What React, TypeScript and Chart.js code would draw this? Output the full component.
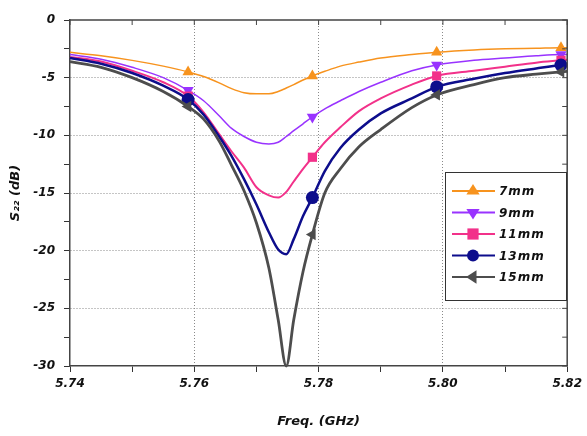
import React, { useEffect, useRef } from 'react';
import { Chart, registerables } from 'chart.js';

Chart.register(...registerables);

const freq = [5.740, 5.745, 5.750, 5.755, 5.759, 5.7615, 5.764, 5.766, 5.768, 5.770, 5.772, 5.7735, 5.7748, 5.776, 5.7775, 5.779, 5.781, 5.7835, 5.7865, 5.790, 5.795, 5.799, 5.805, 5.810, 5.815, 5.819, 5.820];
const markerFreqs = [5.759, 5.779, 5.799, 5.819];

const s7mm = [-2.8, -3.1, -3.5, -4.0, -4.5, -4.9, -5.45, -5.95, -6.3, -6.4, -6.4, -6.2, -5.9, -5.6, -5.2, -4.85, -4.45, -4.0, -3.65, -3.3, -3.0, -2.8, -2.6, -2.5, -2.45, -2.4, -2.4];
const s9mm = [-3.0, -3.4, -4.1, -5.0, -6.1, -7.0, -8.3, -9.4, -10.1, -10.6, -10.75, -10.6, -10.1, -9.6, -9.0, -8.4, -7.7, -7.0, -6.2, -5.4, -4.4, -3.9, -3.5, -3.3, -3.1, -3.0, -3.0];
const s11mm = [-3.2, -3.6, -4.4, -5.4, -6.6, -8.0, -9.9, -11.4, -12.8, -14.5, -15.2, -15.4, -14.9, -14.0, -12.9, -11.9, -10.6, -9.3, -7.9, -6.8, -5.6, -4.85, -4.4, -4.05, -3.7, -3.5, -3.45];
const s13mm = [-3.3, -3.8, -4.6, -5.7, -6.9, -8.2, -10.1, -11.8, -13.8, -16.0, -18.4, -19.9, -20.3, -19.0, -17.0, -15.4, -13.1, -11.1, -9.5, -8.1, -6.8, -5.8, -5.1, -4.6, -4.2, -3.9, -3.85];
const s15mm = [-3.6, -4.1, -5.0, -6.2, -7.5, -8.6, -10.5, -12.6, -14.8, -17.6, -21.5, -26.0, -30.0, -26.0, -21.8, -18.6, -15.0, -12.9, -11.0, -9.5, -7.6, -6.5, -5.6, -5.0, -4.7, -4.5, -4.45];

const seriesLabels = ['7mm', '9mm', '11mm', '13mm', '15mm'];
const seriesValues = [s7mm, s9mm, s11mm, s13mm, s15mm];
const seriesColors = ['#F7931E', '#9933FF', '#F2318A', '#0D0D8C', '#4D4D4D'];
const seriesWidths = [1.5, 1.5, 2, 2.5, 2.8];
const seriesStyles = ['triangle', 'triangle', 'rect', 'circle', 'triangle'];
const seriesRotations = [0, 180, 0, 0, 270];

const TICK_FONT = { family: 'DejaVu Sans', size: 12, weight: 'bold' as const, style: 'italic' as const };

function drawMarker(ctx: CanvasRenderingContext2D, style: string, rot: number, x: number, y: number, r: number) {
  ctx.save();
  ctx.translate(x, y);
  ctx.rotate((rot * Math.PI) / 180);
  ctx.beginPath();
  if (style === 'triangle') {
    const h = r * 1.5;
    ctx.moveTo(0, -r);
    ctx.lineTo(r * 0.95, h - r);
    ctx.lineTo(-r * 0.95, h - r);
    ctx.closePath();
  } else if (style === 'rect') {
    const s = r * 0.8;
    ctx.rect(-s, -s, 2 * s, 2 * s);
  } else {
    ctx.arc(0, 0, r * 0.85, 0, Math.PI * 2);
  }
  ctx.fill();
  ctx.restore();
}

const framePlugin = {
  id: 'frameAndLegend',
  afterDraw(chart: any) {
    const { ctx, chartArea } = chart;
    const { left, right, top, bottom } = chartArea;
    const xs = chart.scales.x;
    const ys = chart.scales.y;
    ctx.save();
    ctx.strokeStyle = '#444';
    ctx.lineWidth = 1.5;
    ctx.beginPath();
    ctx.moveTo(left, top);
    ctx.lineTo(right, top);
    ctx.lineTo(right, bottom);
    ctx.stroke();
    ctx.lineWidth = 1;
    ctx.beginPath();
    for (let v = -30; v <= 0; v += 2.5) {
      const py = ys.getPixelForValue(v);
      ctx.moveTo(right, py);
      ctx.lineTo(right - 5, py);
    }
    for (let i = 0; i <= 8; i++) {
      const px = xs.getPixelForValue(5.74 + i * 0.01);
      ctx.moveTo(px, top);
      ctx.lineTo(px, top + 5);
    }
    ctx.stroke();

    // legend
    const bx = 445, by = 172, bw = 121, bh = 128;
    ctx.fillStyle = '#fff';
    ctx.fillRect(bx, by, bw, bh);
    ctx.strokeStyle = '#333';
    ctx.lineWidth = 1;
    ctx.strokeRect(bx + 0.5, by + 0.5, bw, bh);
    seriesLabels.forEach((lab, i) => {
      const y = 191 + i * 21.5;
      ctx.strokeStyle = seriesColors[i];
      ctx.lineWidth = 2;
      ctx.beginPath();
      ctx.moveTo(452, y);
      ctx.lineTo(495, y);
      ctx.stroke();
      ctx.fillStyle = seriesColors[i];
      drawMarker(ctx, seriesStyles[i], seriesRotations[i], 473, y, 7);
      ctx.fillStyle = '#111';
      ctx.font = 'italic bold 12px "DejaVu Sans"';
      (ctx as any).letterSpacing = '1px';
      ctx.textAlign = 'left';
      ctx.textBaseline = 'middle';
      ctx.fillText(lab, 499, y + 1);
      (ctx as any).letterSpacing = '0px';
    });
    ctx.restore();
  },
};

export default function App() {
  const ref = useRef<HTMLCanvasElement>(null);
  useEffect(() => {
    if (!ref.current) return;
    const datasets = seriesLabels.map((lab, i) => ({
      label: lab,
      data: freq.map((f, j) => ({ x: f, y: seriesValues[i][j] })),
      borderColor: seriesColors[i],
      backgroundColor: seriesColors[i],
      borderWidth: seriesWidths[i],
      cubicInterpolationMode: 'monotone' as const,
      pointStyle: seriesStyles[i] as any,
      rotation: seriesRotations[i],
      pointRadius: (c: any) => (markerFreqs.includes(freq[c.dataIndex]) ? 6.5 : 0),
      pointBorderWidth: 0,
      order: 5 - i,
      clip: false as any,
    }));
    const chart = new Chart(ref.current, {
      type: 'line',
      data: { datasets },
      plugins: [framePlugin],
      options: {
        animation: false,
        responsive: false,
        devicePixelRatio: 1,
        layout: { padding: { left: 0, right: 16, top: 20, bottom: 0 } },
        plugins: { legend: { display: false }, tooltip: { enabled: false } },
        scales: {
          x: {
            type: 'linear',
            min: 5.74,
            max: 5.82,
            afterFit: (s: any) => { s.height = 70; },
            ticks: {
              stepSize: 0.01,
              autoSkip: false,
              maxRotation: 0,
              padding: 5,
              color: '#111',
              font: TICK_FONT,
              callback: (v: any) => (Math.round(Number(v) * 100) % 2 === 0 ? Number(v).toFixed(2) : ''),
            },
            grid: {
              color: (c: any) => {
                const k = Math.round(c.tick.value * 100);
                return k % 2 === 0 && k !== 574 && k !== 582 ? '#8a8a8a' : 'transparent';
              },
              tickColor: '#333',
              tickLength: 6,
              lineWidth: 1,
            },
            border: { display: true, color: '#444', width: 1.5, dash: [1, 2] },
            title: {
              display: true,
              text: 'Freq. (GHz)',
              color: '#111',
              font: { family: 'DejaVu Sans', size: 13, weight: 'bold', style: 'italic' },
              padding: { top: 0, bottom: 7 },
            },
          },
          y: {
            min: -30,
            max: 0,
            afterFit: (s: any) => { s.width = 70; },
            ticks: {
              stepSize: 2.5,
              autoSkip: false,
              padding: 9,
              color: '#111',
              font: TICK_FONT,
              callback: (v: any) => (Number(v) % 5 === 0 ? String(Number(v)) : ''),
            },
            grid: {
              color: (c: any) => {
                const v = c.tick.value;
                return v % 5 === 0 && v !== -30 && v !== 0 ? '#8a8a8a' : 'transparent';
              },
              tickColor: '#333',
              tickLength: 6,
              lineWidth: 1,
            },
            border: { display: true, color: '#444', width: 1.5, dash: [1, 2] },
            title: {
              display: true,
              text: 'S₂₂ (dB)',
              color: '#111',
              font: { family: 'DejaVu Sans', size: 13, weight: 'bold', style: 'italic' },
              padding: { top: 8, bottom: 0 },
            },
          },
        },
      },
    });
    return () => chart.destroy();
  }, []);
  return (
    <div style={{ position: 'fixed', left: 0, top: 0, width: 587, height: 436, background: '#fff' }}>
      <canvas ref={ref} width={587} height={436} />
    </div>
  );
}
